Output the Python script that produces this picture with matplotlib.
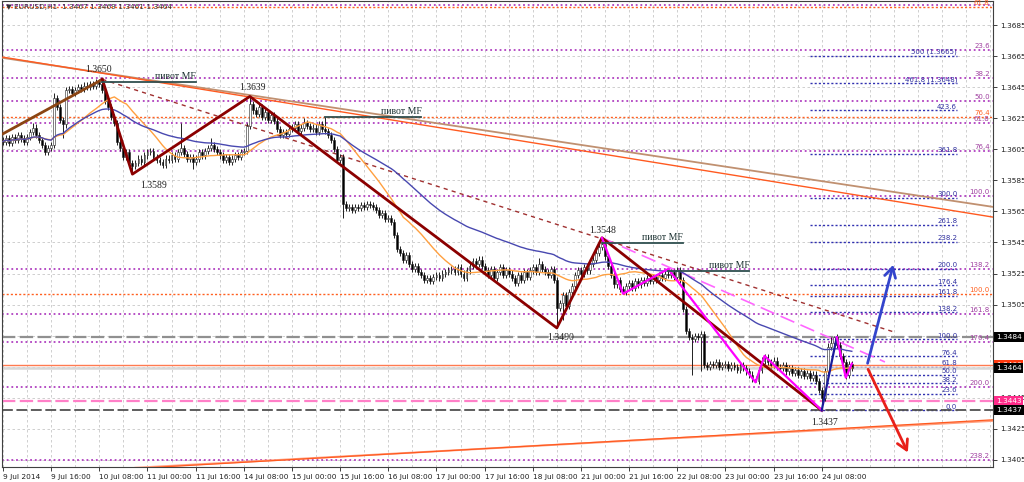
"""EURUSD H1 chart, 9-24 Jul 2014, with zigzag, fib grids and pivot lines."""
import matplotlib
matplotlib.use("Agg")
import matplotlib.pyplot as plt
import matplotlib.transforms as mtransforms
import numpy as np
import pandas as pd

BASE = 1.3400
PIP = 0.0001

# hourly closes in pips above 1.3400, bar 0 = 9 Jul 2014 00:00
closes = [
    210, 212, 209, 213, 211, 214, 212, 210, 213, 216, 219, 214, 211, 208, 203, 206,
    208, 238, 232, 224, 221, 243, 244, 241, 243, 245, 244, 246, 245, 247, 246, 248,
    247, 243, 236, 232, 226, 222, 210, 206, 200, 203, 196, 194, 196, 199, 197, 201,
    203, 204, 200, 198, 197, 195, 199, 198, 201, 199, 203, 206, 202, 199, 200, 197,
    199, 203, 201, 204, 206, 208, 205, 203, 201, 198, 200, 197, 199, 201, 200, 203,
    204, 220, 234, 230, 228, 232, 226, 229, 224, 227, 223, 218, 214, 216, 215, 218,
    219, 221, 217, 219, 222, 220, 218, 219, 216, 221, 218, 217, 214, 211, 205, 198,
    200, 170, 167, 168, 166, 168, 167, 169, 168, 170, 169, 168, 166, 163, 164, 160,
    161, 158, 150, 141, 138, 134, 137, 131, 128, 130, 126, 124, 121, 122, 120, 123,
    124, 122, 125, 126, 127, 128, 126, 129, 125, 122, 127, 130, 133, 131, 134, 130,
    127, 124, 128, 122, 126, 129, 124, 127, 125, 122, 119, 124, 121, 126, 123, 127,
    129, 126, 131, 128, 126, 124, 128, 121, 103, 106, 111, 104, 113, 117, 124, 127,
    125, 129, 127, 131, 134, 138, 142, 144, 136, 130, 124, 118, 121, 115, 113, 117,
    119, 116, 120, 118, 121, 119, 122, 120, 123, 121, 124, 122, 125, 124, 126, 123,
    127, 121, 102, 88, 84, 83, 85, 84, 86, 66, 65, 67, 66, 68, 65, 66,
    67, 64, 66, 65, 63, 66, 64, 62, 60, 57, 56, 63, 69, 71, 68, 66,
    69, 65, 64, 66, 62, 64, 61, 63, 60, 62, 59, 61, 58, 60, 56, 50,
    45, 62, 78, 80, 84, 79, 72, 68, 60, 67, 64,
]
first_open = 211
wick = 2  # typical wick length in pips
spike_hi = {10: 222, 17: 241, 33: 250, 59: 222, 69: 212, 82: 239, 100: 225,
            107: 226, 178: 135, 199: 148, 221: 128, 253: 73, 275: 84, 276: 85}
spike_lo = {14: 201, 20: 212, 43: 189, 63: 192, 113: 161, 184: 90, 186: 95,
            206: 112, 229: 60, 232: 62, 250: 55, 272: 37, 280: 57}

# swing points (bar, price)
swing_bars = [33, 43, 82, 184, 199, 272]
swing_prices = [1.3650, 1.3589, 1.3639, 1.3490, 1.3548, 1.3437]
swing_labels = ["1.3650", "1.3589", "1.3639", "1.3490", "1.3548", "1.3437"]
swing_offsets = [(-4, 10), (21, -11), (3, 9), (4, -10), (1, 7), (3, -12)]
lead_in = [(0, 1.3615), (33, 1.3650)]

magenta_bars = [199, 206, 221, 250, 253, 272]
magenta_prices = [1.3548, 1.3512, 1.3528, 1.3455, 1.3472, 1.3437]
navy_leg = [(272, 1.3437), (277, 1.3484)]
magenta_tail = [(277, 1.3484), (280, 1.3458), (282, 1.3467)]

# trend lines (two anchors each)
upper_tan = [(0, 1.36638), (330, 1.35676)]
upper_orange = [(0, 1.36643), (330, 1.35610)]
lower_orange = [(48, 1.34000), (330, 1.34310)]
lower_salmon = [(44, 1.34000), (330, 1.34303)]
dotted_trend = [(33, 1.3650), (296, 1.34874)]
pink_trend = [(199, 1.3548), (293, 1.34681)]

# pivot MF lines
pivot_start = [33, 107, 199, 221]
pivot_end = [64, 139, 226, 248]
pivot_price = [1.36483, 1.36258, 1.35444, 1.35267]

# fib grids
fib_a = (1.36979, 1.35749)        # 0% / 100% (purple)
fib_a_levels = [0, 23.6, 38.2, 50, 61.8, 76.4, 100, 138.2, 161.8, 176.4, 200, 238.2]
fib_b = (1.39949, 1.35119)        # 0% / 100% (orange)
fib_b_levels = [61.8, 76.4, 100]
fib_c = (1.3437, 1.34826)         # 0% / 100% (blue expansion)
fib_c_levels = [0, 23.6, 38.2, 50, 61.8, 76.4, 100, 138.2, 161.8, 176.4, 200,
                238.2, 261.8, 300, 361.8, 423.6, 461.8, 500]
fib_c_text = {500: "500 (1.3665)", 461.8: "461.8 (1.3648)"}

# horizontal price lines and right-hand boxes
box_prices = [1.3484, 1.3466, 1.3464, 1.3443, 1.3437]
box_colors = ["black", "#ff3a10", "black", "#ff2b8a", "black"]
hidden_ticks = [1.3485, 1.3465]   # covered by the boxes

arrow_up = [(287, 1.34655), (296, 1.35324)]
arrow_down = [(287, 1.34650), (301, 1.34082)]

x_labels = ["9 Jul 2014", "9 Jul 16:00", "10 Jul 08:00", "11 Jul 00:00", "11 Jul 16:00",
            "14 Jul 08:00", "15 Jul 00:00", "15 Jul 16:00", "16 Jul 08:00", "17 Jul 00:00",
            "17 Jul 16:00", "18 Jul 08:00", "21 Jul 00:00", "21 Jul 16:00", "22 Jul 08:00",
            "23 Jul 00:00", "23 Jul 16:00", "24 Jul 08:00"]

plt.rcParams["font.family"] = ["DejaVu Sans"]
SERIF = ["Liberation Serif", "DejaVu Serif"]

fig = plt.figure(figsize=(10.24, 4.82), dpi=100)
ax = fig.add_axes([2 / 1024, 15 / 482, 991 / 1024, 466 / 482])
ax.set_xlim(-0.33, 328.9)
ax.set_ylim(1.340049, 1.370045)

# grid
for gx in range(0, 330, 8):
    ax.axvline(gx, color="#c8c8c8", lw=0.6, ls=(0, (3, 3)), zorder=0)
y_ticks = np.round(np.arange(1.3405, 1.3686, 0.002), 4)
for gy in y_ticks:
    ax.axhline(gy, color="#c8c8c8", lw=0.6, ls=(0, (3, 3)), zorder=0)

# fib grids
def fib_price(fib, lvl):
    return fib[0] + (fib[1] - fib[0]) * lvl / 100.0

for lvl in fib_a_levels:
    p = fib_price(fib_a, lvl)
    ax.axhline(p, color="#b040c0", lw=1.3, ls=(0, (1, 1.6)), zorder=1)
    if lvl != 0:
        ax.text(327.8, p + 0.00006, f"{lvl:.1f}", color="#a040a0", fontsize=5,
                ha="right", va="bottom", zorder=4)
for lvl in fib_b_levels:
    p = fib_price(fib_b, lvl)
    ax.axhline(p, color="#ff6020", lw=1.0, ls=(0, (1.5, 1.5)), zorder=1)
    ax.text(327.8, p + 0.00006, f"{lvl:.1f}", color="#ff6020", fontsize=5,
            ha="right", va="bottom", zorder=4)
for lvl in fib_c_levels:
    p = fib_price(fib_c, lvl)
    ax.hlines(p, 268, 317, color="#3030b0", lw=1.0, ls=(0, (1.5, 1.5)), zorder=1)
    ax.text(317, p + 0.00004, fib_c_text.get(lvl, f"{lvl:.1f}"), color="#3030a0",
            fontsize=5, ha="right", va="bottom", zorder=4)

# price lines
ax.axhline(1.3484, color="#909090", lw=1.6, ls=(0, (6, 2)), zorder=2)
ax.axhline(1.3437, color="#505050", lw=1.3, ls=(0, (6, 2)), zorder=2)
ax.axhline(1.3443, color="#ff80c8", lw=1.6, ls=(0, (6, 2)), zorder=2)
ax.axhline(1.3464, color="#d8d8d8", lw=1.8, zorder=2)
ax.axhline(1.3466, color="#ff7a50", lw=1.0, zorder=2)

# channel lines
def seg(pts, **kw):
    xs, ys = zip(*pts)
    ax.plot(xs, ys, **kw)

seg(upper_tan, color="#c09070", lw=1.3, zorder=3)
seg(upper_orange, color="#ff5a20", lw=1.0, zorder=3)
seg(lower_salmon, color="#ffa080", lw=1.4, zorder=3)
seg(lower_orange, color="#ff5a20", lw=0.9, zorder=3)
seg(dotted_trend, color="#a03030", lw=1.0, ls=(0, (3, 3)), zorder=3)
seg(pink_trend, color="#ff66ff", lw=1.2, ls=(0, (9, 4)), zorder=3)

# candles
c = np.array(closes, dtype=float)
o = np.array([first_open] + closes[:-1], dtype=float)
hi = np.maximum(o, c) + wick
lo = np.minimum(o, c) - wick
for k, v in spike_hi.items():
    hi[k] = v
for k, v in spike_lo.items():
    lo[k] = v
x = np.arange(len(c))
ax.vlines(x, BASE + lo * PIP, BASE + hi * PIP, color="#202020", lw=0.7, zorder=5)
body_bottom = BASE + np.minimum(o, c) * PIP
body_h = np.maximum(np.abs(c - o), 0.3) * PIP
faces = np.where(c >= o, "white", "black")
ax.bar(x, body_h, bottom=body_bottom, width=0.62, color=faces,
       edgecolor="#202020", linewidth=0.4, zorder=6)

# moving averages
s = pd.Series(BASE + c * PIP)
ax.plot(x, s.rolling(21, min_periods=1).mean(), color="#ffa040", lw=1.0, zorder=7)
ax.plot(x, s.ewm(span=60).mean(), color="#4848b0", lw=1.0, zorder=7)

# zigzags
seg(lead_in, color="#8b4513", lw=2.0, zorder=8)
ax.plot(swing_bars, swing_prices, color="#8b0000", lw=2.0, zorder=8)
ax.plot(magenta_bars, magenta_prices, color="#ff00ff", lw=1.6, zorder=9)
seg(navy_leg, color="#1a1a9a", lw=1.6, zorder=9)
seg(magenta_tail, color="#ff00ff", lw=1.6, zorder=9)

for bx, py, lab, off in zip(swing_bars, swing_prices, swing_labels, swing_offsets):
    ax.annotate(lab, (bx, py), xytext=off, textcoords="offset pixels",
                ha="center", va="center", fontsize=7, family=SERIF,
                color="#202020", zorder=10)

# pivot MF
for xs, xe, py in zip(pivot_start, pivot_end, pivot_price):
    ax.plot([xs, xe], [py, py], color="#2f4f4f", lw=1.3, zorder=9)
    ax.annotate("пивот MF", (xe, py), xytext=(0, 1), textcoords="offset pixels",
                ha="right", va="bottom", fontsize=7, family=SERIF,
                color="#1a3030", zorder=10)

# forecast arrows
for pts, col in [(arrow_up, "#3344cc"), (arrow_down, "#e8201a")]:
    ax.annotate("", xy=pts[1], xytext=pts[0],
                arrowprops=dict(arrowstyle="->,head_length=0.7,head_width=0.4",
                                color=col, lw=2.0, mutation_scale=10), zorder=10)

# price boxes on the right axis
trans = mtransforms.blended_transform_factory(ax.transAxes, ax.transData)
for p, col in zip(box_prices, box_colors):
    ax.text(1.003, p, f"{p:.4f}", transform=trans, color="white", fontsize=5.3,
            ha="left", va="center", clip_on=False, zorder=12,
            bbox=dict(boxstyle="square,pad=0.25", fc=col, ec="none"))

# axes styling
ax.yaxis.tick_right()
ax.set_yticks(y_ticks)
ax.set_yticklabels(["" if round(t, 4) in hidden_ticks else f"{t:.4f}" for t in y_ticks])
ax.set_xticks(np.arange(0, 16 * len(x_labels), 16))
ax.set_xticklabels(x_labels, ha="left")
ax.tick_params(axis="both", labelsize=5.3, length=3, width=0.6, pad=2,
               colors="#202020")
for sp in ax.spines.values():
    sp.set_color("#404040")
    sp.set_linewidth(0.8)

fig.text(6 / 1024, 1 - 7 / 482, "\u25bc EURUSD,H1  1.3467 1.3469 1.3461 1.3464",
         fontsize=5.3, color="#303030", va="center", ha="left")

fig.savefig("out.png", dpi=100)
plt.close(fig)
